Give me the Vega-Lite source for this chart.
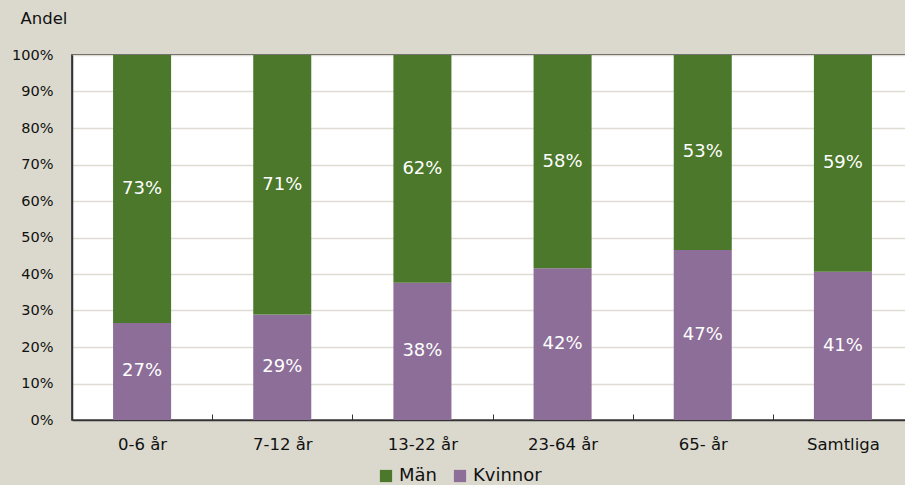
{
  "$schema": "https://vega.github.io/schema/vega-lite/v6.json",
  "width": 841,
  "height": 365,
  "autosize": {"type": "none"},
  "padding": {"left": 72, "top": 55, "right": 0, "bottom": 65},
  "background": "#dbd9ce",
  "config": {
    "font": "DejaVu Sans",
    "view": {"fill": "#ffffff", "stroke": "#222222", "strokeWidth": 1.5},
    "axis": {"labelFont": "DejaVu Sans", "labelColor": "#111111", "titleFont": "DejaVu Sans"}
  },
  "data": {
    "values": [
      {"grupp": "0-6 år", "kon": "Kvinnor", "ordning": 0, "andel": 0.266},
      {"grupp": "0-6 år", "kon": "Män", "ordning": 1, "andel": 0.734},
      {"grupp": "7-12 år", "kon": "Kvinnor", "ordning": 0, "andel": 0.289},
      {"grupp": "7-12 år", "kon": "Män", "ordning": 1, "andel": 0.711},
      {"grupp": "13-22 år", "kon": "Kvinnor", "ordning": 0, "andel": 0.376},
      {"grupp": "13-22 år", "kon": "Män", "ordning": 1, "andel": 0.624},
      {"grupp": "23-64 år", "kon": "Kvinnor", "ordning": 0, "andel": 0.416},
      {"grupp": "23-64 år", "kon": "Män", "ordning": 1, "andel": 0.584},
      {"grupp": "65- år", "kon": "Kvinnor", "ordning": 0, "andel": 0.466},
      {"grupp": "65- år", "kon": "Män", "ordning": 1, "andel": 0.534},
      {"grupp": "Samtliga", "kon": "Kvinnor", "ordning": 0, "andel": 0.406},
      {"grupp": "Samtliga", "kon": "Män", "ordning": 1, "andel": 0.594}
    ]
  },
  "transform": [
    {"stack": "andel", "groupby": ["grupp"], "sort": [{"field": "ordning", "order": "ascending"}], "as": ["y0", "y1"]},
    {"calculate": "(datum.y0 + datum.y1) / 2", "as": "ymid"}
  ],
  "encoding": {
    "x": {
      "field": "grupp", "type": "nominal", "sort": null,
      "scale": {"paddingInner": 0.586, "paddingOuter": 0.293},
      "axis": {"title": null, "labelAngle": 0, "labelFontSize": 16.5, "domainColor": "#333333", "domainWidth": 1.5, "tickOffset": 70.1, "labelOffset": -70.1, "tickSize": -6, "tickColor": "#333333", "labelPadding": 22, "grid": false}
    }
  },
  "layer": [
    {
      "mark": {"type": "bar"},
      "encoding": {
        "y": {
          "field": "y0", "type": "quantitative",
          "scale": {"domain": [0, 1], "nice": false},
          "axis": {"format": ".0%", "values": [0,0.1,0.2,0.3,0.4,0.5,0.6,0.7,0.8,0.9,1], "labelFontSize": 14.5, "labelOverlap": false, "title": "Andel", "titleAngle": 0, "titleAlign": "left", "titleBaseline": "top", "titleX": -52, "titleY": -45, "titleFontSize": 16.5, "titleFontWeight": "normal", "titleColor": "#111111", "ticks": false, "labelPadding": 19, "domainColor": "#333333", "domainWidth": 1.5, "gridColor": "#dedcd3", "gridWidth": 1.5}
        },
        "y2": {"field": "y1"},
        "color": {
          "field": "kon", "type": "nominal",
          "scale": {"domain": ["Män", "Kvinnor"], "range": ["#4b782a", "#8c6e98"]},
          "legend": {"title": null, "orient": "none", "direction": "horizontal", "legendX": 305, "legendY": 412, "symbolType": "square", "symbolSize": 150, "symbolStrokeWidth": 0, "labelFontSize": 18, "labelFont": "DejaVu Sans", "labelColor": "#111111", "columnPadding": 14, "labelOffset": 4}
        }
      }
    },
    {
      "mark": {"type": "text", "color": "#ffffff", "fontSize": 18, "font": "DejaVu Sans"},
      "encoding": {
        "y": {
          "field": "ymid", "type": "quantitative",
          "scale": {"domain": [0, 1], "nice": false},
          "axis": {"format": ".0%", "values": [0,0.1,0.2,0.3,0.4,0.5,0.6,0.7,0.8,0.9,1], "labelFontSize": 14.5, "labelOverlap": false, "title": "Andel", "titleAngle": 0, "titleAlign": "left", "titleBaseline": "top", "titleX": -52, "titleY": -45, "titleFontSize": 16.5, "titleFontWeight": "normal", "titleColor": "#111111", "ticks": false, "labelPadding": 19, "domainColor": "#333333", "domainWidth": 1.5, "gridColor": "#dedcd3", "gridWidth": 1.5}
        },
        "text": {"field": "andel", "type": "quantitative", "format": ".0%"}
      }
    }
  ]
}
